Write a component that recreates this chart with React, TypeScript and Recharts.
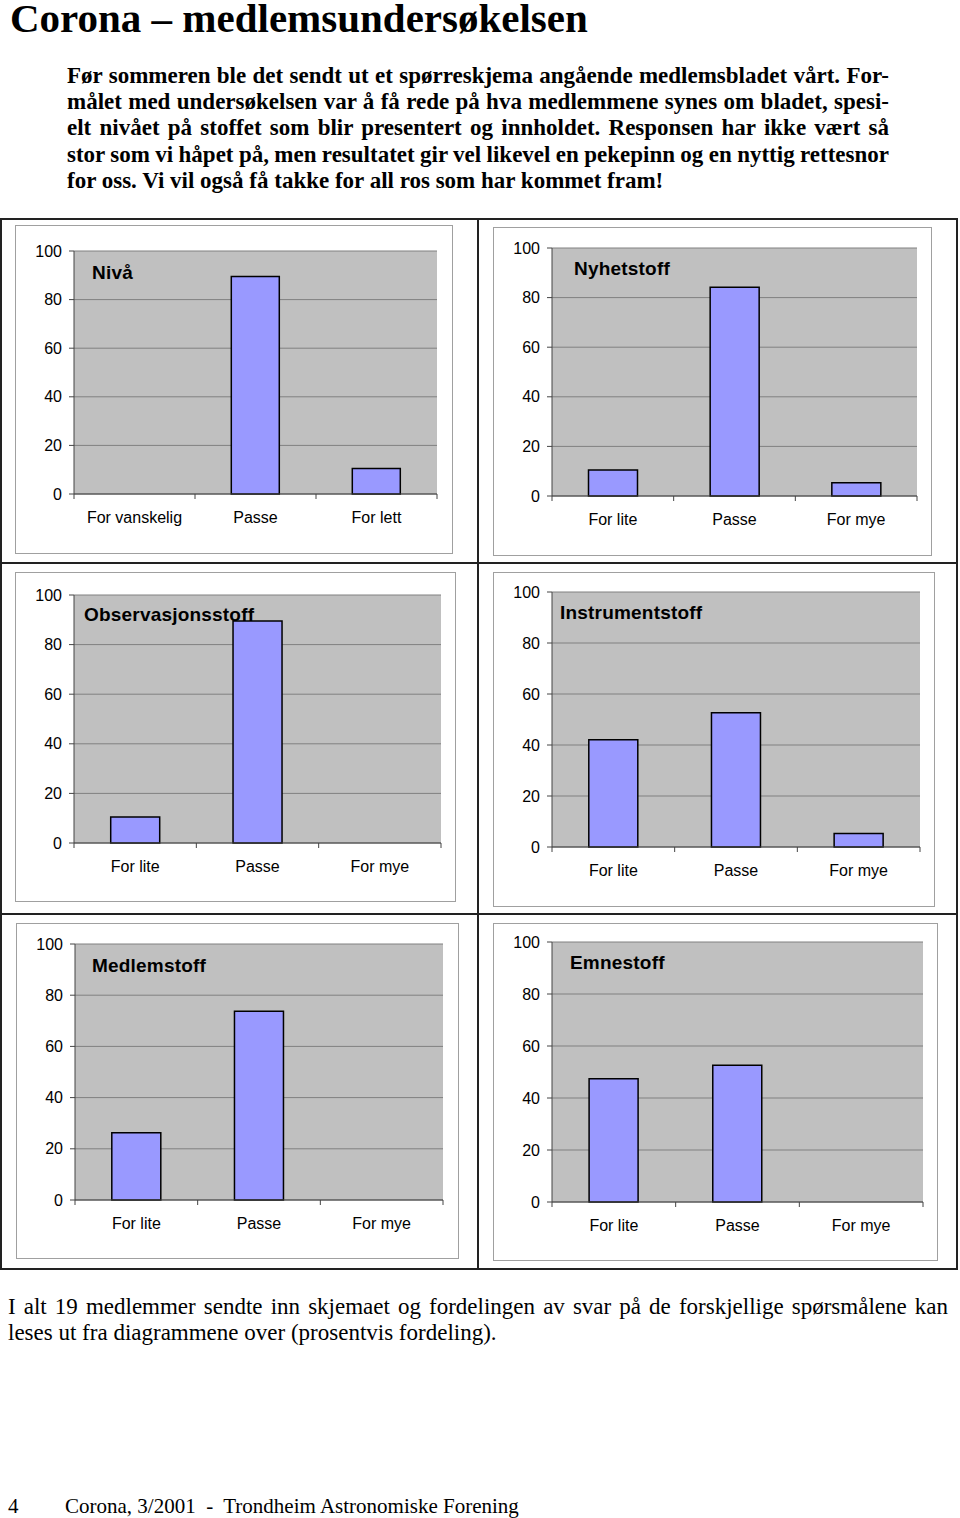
import React from "react";
import {
  BarChart,
  Bar,
  XAxis,
  YAxis,
  CartesianGrid,
} from "recharts";

// Answers in percent of 19 returned forms
const nivaCategories = ["For vanskelig", "Passe", "For lett"];
const amountCategories = ["For lite", "Passe", "For mye"];
const nivaValues = [0, 89.5, 10.5];
const nyhetValues = [10.5, 84.2, 5.3];
const observasjonValues = [10.5, 89.5, 0];
const instrumentValues = [42.1, 52.6, 5.3];
const medlemValues = [26.3, 73.7, 0];
const emneValues = [47.4, 52.6, 0];
const yTicks = [0, 20, 40, 60, 80, 100];

const introLines = [
  "Før sommeren ble det sendt ut et spørreskjema angående medlemsbladet vårt. For-",
  "målet med undersøkelsen var å få rede på hva medlemmene synes om bladet, spesi-",
  "elt nivået på stoffet som blir presentert og innholdet. Responsen har ikke vært så",
  "stor som vi håpet på, men resultatet gir vel likevel en pekepinn og en nyttig rettesnor",
  "for oss. Vi vil også få takke for all ros som har kommet fram!",
];
const outroLines = [
  "I alt 19 medlemmer sendte inn skjemaet og fordelingen av svar på de forskjellige spørsmålene kan",
  "leses ut fra diagrammene over (prosentvis fordeling).",
];

const SERIF = "'Liberation Serif', 'Times New Roman', serif";
const SANS = "'Liberation Sans', Arial, sans-serif";
const TICK_SIZE = 5;
const TICK_MARGIN = 13;

type Box = { x: number; y: number; w: number; h: number };
type Plot = { top: number; right: number; yw: number; xh: number };

interface PanelProps {
  title: string;
  categories: string[];
  values: number[];
  box: Box;
  plot: Plot;
  titlePos: [number, number];
}

function Panel({ title, categories, values, box, plot, titlePos }: PanelProps) {
  const data = categories.map((name, i) => ({ name, value: values[i] }));
  const band = (box.w - plot.right - plot.yw) / categories.length;

  const renderTick = (props: any) => {
    const { x, y, payload, index } = props;
    const lineY = y - (TICK_SIZE + TICK_MARGIN);
    return (
      <g>
        <line x1={x - band / 2} x2={x - band / 2} y1={lineY} y2={lineY + TICK_SIZE} stroke="#444" />
        {index === categories.length - 1 && (
          <line x1={x + band / 2} x2={x + band / 2} y1={lineY} y2={lineY + TICK_SIZE} stroke="#444" />
        )}
        <text x={x} y={y} dy="0.71em" textAnchor="middle" fill="#000" fontSize={16} fontFamily={SANS}>
          {payload.value}
        </text>
      </g>
    );
  };

  return (
    <>
      <div
        style={{
          position: "absolute",
          left: box.x,
          top: box.y,
          width: box.w,
          height: box.h,
          boxSizing: "border-box",
          border: "1px solid #a0a0a0",
          background: "#fff",
        }}
      />
      <div style={{ position: "absolute", left: box.x, top: box.y }}>
        <BarChart
          width={box.w}
          height={box.h}
          data={data}
          margin={{ top: plot.top, right: plot.right, left: 0, bottom: 0 }}
          barCategoryGap="30%"
        >
          <CartesianGrid vertical={false} fill="#c0c0c0" stroke="#808080" />
          <XAxis
            dataKey="name"
            height={plot.xh}
            interval={0}
            axisLine={{ stroke: "#444" }}
            tickLine={false}
            tickSize={TICK_SIZE}
            tickMargin={TICK_MARGIN}
            tick={renderTick}
          />
          <YAxis
            width={plot.yw}
            domain={[0, 100]}
            ticks={yTicks}
            interval={0}
            tickSize={TICK_SIZE}
            tickMargin={7}
            axisLine={{ stroke: "#444" }}
            tickLine={{ stroke: "#444" }}
            tick={{ fill: "#000", fontSize: 16, fontFamily: SANS }}
          />
          <YAxis
            yAxisId="right"
            orientation="right"
            width={0}
            domain={[0, 100]}
            tick={false}
            tickLine={false}
            axisLine={{ stroke: "#808080" }}
          />
          <Bar
            dataKey="value"
            fill="#9999ff"
            stroke="#000"
            strokeWidth={1.5}
            isAnimationActive={false}
          />
        </BarChart>
      </div>
      <div
        style={{
          position: "absolute",
          left: titlePos[0],
          top: titlePos[1] - 12,
          lineHeight: "24px",
          fontFamily: SANS,
          fontWeight: "bold",
          fontSize: 19,
          letterSpacing: 0.2,
          color: "#000",
          whiteSpace: "nowrap",
        }}
      >
        {title}
      </div>
    </>
  );
}

const lineStyle = (justify: boolean): React.CSSProperties => ({
  textAlign: justify ? "justify" : "left",
  textAlignLast: justify ? "justify" : "left",
  wordSpacing: justify ? -3 : 0,
  whiteSpace: justify ? "normal" : "nowrap",
});

export default function App() {
  return (
    <div
      style={{
        position: "absolute",
        left: 0,
        top: 0,
        width: 960,
        height: 1518,
        background: "#fff",
        overflow: "hidden",
        color: "#000",
      }}
    >
      <div
        style={{
          position: "absolute",
          left: 10,
          top: 1,
          fontFamily: SERIF,
          fontWeight: "bold",
          fontSize: 41,
          lineHeight: "35px",
          whiteSpace: "nowrap",
        }}
      >
        Corona – medlemsundersøkelsen
      </div>

      <div
        style={{
          position: "absolute",
          left: 67,
          top: 63,
          width: 822,
          fontFamily: SERIF,
          fontWeight: "bold",
          fontSize: 23,
          lineHeight: "26.2px",
        }}
      >
        {introLines.map((l, i) => (
          <div key={i} style={lineStyle(i < introLines.length - 1)}>
            {l}
          </div>
        ))}
      </div>

      {/* table frame */}
      <div
        style={{
          position: "absolute",
          left: 0,
          top: 218,
          width: 958,
          height: 1052,
          boxSizing: "border-box",
          border: "2px solid #222",
        }}
      />
      <div style={{ position: "absolute", left: 0, top: 562, width: 958, height: 2, background: "#222" }} />
      <div style={{ position: "absolute", left: 0, top: 913, width: 958, height: 2, background: "#222" }} />
      <div style={{ position: "absolute", left: 477, top: 218, width: 2, height: 1052, background: "#222" }} />

      <Panel
        title="Nivå"
        categories={nivaCategories}
        values={nivaValues}
        box={{ x: 15, y: 225, w: 438, h: 329 }}
        plot={{ top: 26, right: 16, yw: 59, xh: 60 }}
        titlePos={[92, 273]}
      />
      <Panel
        title="Nyhetstoff"
        categories={amountCategories}
        values={nyhetValues}
        box={{ x: 493, y: 227, w: 439, h: 329 }}
        plot={{ top: 21, right: 15, yw: 59, xh: 60 }}
        titlePos={[574, 269]}
      />
      <Panel
        title="Observasjonsstoff"
        categories={amountCategories}
        values={observasjonValues}
        box={{ x: 15, y: 572, w: 441, h: 330 }}
        plot={{ top: 23, right: 15, yw: 59, xh: 59 }}
        titlePos={[84, 615]}
      />
      <Panel
        title="Instrumentstoff"
        categories={amountCategories}
        values={instrumentValues}
        box={{ x: 493, y: 572, w: 442, h: 335 }}
        plot={{ top: 20, right: 15, yw: 59, xh: 60 }}
        titlePos={[560, 613]}
      />
      <Panel
        title="Medlemstoff"
        categories={amountCategories}
        values={medlemValues}
        box={{ x: 16, y: 923, w: 443, h: 336 }}
        plot={{ top: 21, right: 16, yw: 59, xh: 59 }}
        titlePos={[92, 966]}
      />
      <Panel
        title="Emnestoff"
        categories={amountCategories}
        values={emneValues}
        box={{ x: 493, y: 923, w: 445, h: 338 }}
        plot={{ top: 19, right: 15, yw: 59, xh: 59 }}
        titlePos={[570, 963]}
      />

      <div
        style={{
          position: "absolute",
          left: 8,
          top: 1294,
          width: 940,
          fontFamily: SERIF,
          fontSize: 23,
          lineHeight: "26px",
        }}
      >
        {outroLines.map((l, i) => (
          <div key={i} style={lineStyle(i < outroLines.length - 1)}>
            {l}
          </div>
        ))}
      </div>

      <div
        style={{
          position: "absolute",
          left: 8,
          top: 1493,
          fontFamily: SERIF,
          fontSize: 21,
          lineHeight: "26px",
          whiteSpace: "pre",
        }}
      >
        4
      </div>
      <div
        style={{
          position: "absolute",
          left: 65,
          top: 1493,
          fontFamily: SERIF,
          fontSize: 21,
          lineHeight: "26px",
          whiteSpace: "pre",
        }}
      >
        {"Corona, 3/2001  -  Trondheim Astronomiske Forening"}
      </div>
    </div>
  );
}
